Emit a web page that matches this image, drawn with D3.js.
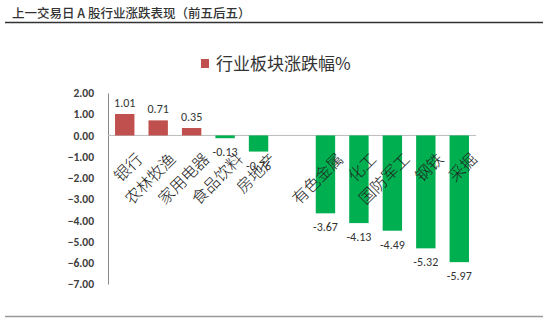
<!DOCTYPE html>
<html><head><meta charset="utf-8">
<script src="https://cdn.jsdelivr.net/npm/d3@7"></script>
<style>body{margin:0;background:#fff}svg{display:block}</style>
</head><body>
<script>
const categories = ["银行","农林牧渔","家用电器","食品饮料","房地产","","有色金属","化工","国防军工","钢铁","采掘"];
const values = [1.01,0.71,0.35,-0.13,-0.76,null,-3.67,-4.13,-4.49,-5.32,-5.97];
const yTicks = [2,1,0,-1,-2,-3,-4,-5,-6,-7];
const titleText = "上一交易日 A 股行业涨跌表现（前五后五）";
const legendText = "行业板块涨跌幅%";

const W=554,H=322;
const svg=d3.select("body").append("svg").attr("width",W).attr("height",H);
const cjk="'Noto Sans CJK SC','Noto Sans',sans-serif";
const num="Carlito,'Liberation Sans','DejaVu Sans',sans-serif";

svg.append("text").attr("x",12).attr("y",18).attr("font-family",cjk).attr("font-size",12.5)
  .attr("font-weight",500).attr("fill","#333").text(titleText);
svg.append("line").attr("x1",5).attr("x2",543).attr("y1",22.5).attr("y2",22.5).attr("stroke","#333").attr("stroke-width",1.5);
svg.append("line").attr("x1",5).attr("x2",543).attr("y1",316.5).attr("y2",316.5).attr("stroke","#999").attr("stroke-width",1.5);

const x=d3.scaleBand().domain(d3.range(categories.length)).range([108,476]).paddingInner(0.42).paddingOuter(0.21);
const y=d3.scaleLinear().domain([-7,2]).range([284,93]);

// y axis
const ya=svg.append("g").attr("transform","translate(108,0)")
  .call(d3.axisLeft(y).tickValues(yTicks).tickFormat(d3.format(".2f")).tickSize(0).tickPadding(14));
ya.select(".domain").attr("stroke","#888");
ya.selectAll("text").attr("font-family",num).attr("font-size",11.5).attr("font-weight","bold").attr("fill","#404040");

// zero line
svg.append("line").attr("x1",108).attr("x2",476).attr("y1",y(0)).attr("y2",y(0)).attr("stroke","#bbb").attr("stroke-width",1);

const data=categories.map((c,i)=>({c,i,v:values[i]})).filter(d=>d.v!==null);
svg.selectAll("rect.bar").data(data).join("rect")
  .attr("x",d=>x(d.i)).attr("width",x.bandwidth())
  .attr("y",d=>y(Math.max(0,d.v))).attr("height",d=>Math.abs(y(d.v)-y(0)))
  .attr("fill",d=>d.v>=0?"#C0504D":"#00B050");

svg.selectAll("text.val").data(data).join("text")
  .attr("x",d=>x(d.i)+x.bandwidth()/2)
  .attr("y",d=>d.v>=0?y(d.v)-7:y(d.v)+18)
  .attr("text-anchor","middle").attr("font-family",num).attr("font-size",12).attr("fill","#333")
  .text(d=>d.v.toFixed(2));

// category labels
svg.selectAll("text.cat").data(categories.map((c,i)=>({c,i})).filter(d=>d.c)).join("text")
  .attr("transform",d=>`translate(${x(d.i)+x.bandwidth()/2+8},${y(0)+14}) rotate(-45)`)
  .attr("text-anchor","end").attr("dominant-baseline","hanging")
  .attr("font-family",cjk).attr("font-size",16).attr("font-weight",300).attr("fill","#222").text(d=>d.c);

// legend
svg.append("rect").attr("x",201).attr("y",59).attr("width",8).attr("height",9).attr("fill","#C0504D");
svg.append("text").attr("x",216).attr("y",70).attr("font-family",cjk).attr("font-size",17).attr("fill","#333").text(legendText);
</script>
</body></html>
